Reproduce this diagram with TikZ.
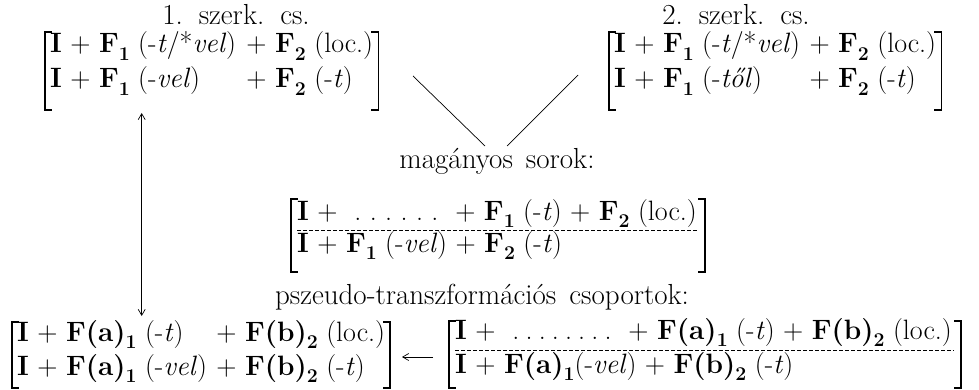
\documentclass[tikz,border=0pt]{standalone}
\usepackage{fontspec}
\usetikzlibrary{arrows.meta,calc}
\newcommand\bI{\textbf{I}}
\newcommand\bF{\textbf{F}}
\newcommand\bFa{\textbf{F(a)}}
\newcommand\bFb{\textbf{F(b)}}
\newcommand\sub[1]{\raisebox{-0.28em}{\fontsize{19.5}{19.5}\selectfont\bfseries #1}}
\newcommand\dd{.\hspace{0.3em}}
\newcommand\ddn{.\hspace{0.22em}}
\newcommand\headfont{\fontsize{29}{34}\selectfont\spaceskip=0.45em plus 0.1em\relax}
\newcommand\brackets[4]{%
  \draw[brk] ($(#1)+(7,0)$) -- (#1) -- (#2) -- ($(#2)+(7,0)$);
  \draw[brk] ($(#3)+(-7,0)$) -- (#3) -- (#4) -- ($(#4)+(-7,0)$);}
\tikzset{
  txt/.style={font=\fontsize{28}{34}\selectfont, inner sep=0pt, anchor=base west},
  head/.style={font=\headfont, inner sep=0pt, anchor=base},
  brk/.style={line width=1.5pt, line join=miter},
  conn/.style={line width=0.7pt},
  arr/.style={conn, -{Straight Barb[length=6pt,width=7pt]}},
  darr/.style={conn, {Straight Barb[length=6pt,width=7pt]}-{Straight Barb[length=6pt,width=7pt]}},
  sep/.style={line width=0.6pt, dash pattern=on 4pt off 2pt}
}
\begin{document}
\begin{tikzpicture}[x=1pt,y=-1pt]
\useasboundingbox (0,0) rectangle (979,390);
% ---------- top left ----------
\node[head] (t1) at (236,25) {1. szerk. cs.};
\node[txt] (A1a) at (50,53) {\bI{} + \bF\sub1 (-\textit{t}/*\textit{vel})};
\node[txt] (A1b) at ($(A1a.base east)+(10,0)$) {+ \bF\sub2 (loc.)};
\node[txt] (A2a) at (50,88) {\bI{} + \bF\sub1 (-\textit{vel})};
\node[txt] (A2b) at (A1b.base west |- A2a.base) {+ \bF\sub2 (-\textit{t})};
\coordinate (Atl) at ($(A1a.base west)+(-5,-21)$);
\coordinate (Abl) at ($(A2a.base west)+(-5,22)$);
\coordinate (Atr) at ($(A1b.base east)+(5,-21)$);
\coordinate (Abr) at (Atr |- Abl);
\brackets{Atl}{Abl}{Atr}{Abr}
% ---------- top right ----------
\node[head] (t2) at (736,25) {2. szerk. cs.};
\node[txt] (B1a) at (614,53) {\bI{} + \bF\sub1 (-\textit{t}/*\textit{vel})};
\node[txt] (B1b) at ($(B1a.base east)+(9,0)$) {+ \bF\sub2 (loc.)};
\node[txt] (B2a) at (614,88) {\bI{} + \bF\sub1 (-\textit{től})};
\node[txt] (B2b) at (B1b.base west |- B2a.base) {+ \bF\sub2 (-\textit{t})};
\coordinate (Btl) at ($(B1a.base west)+(-5,-21)$);
\coordinate (Bbl) at ($(B2a.base west)+(-5,22)$);
\coordinate (Btr) at ($(B1b.base east)+(5,-21)$);
\coordinate (Bbr) at (Btr |- Bbl);
\brackets{Btl}{Bbl}{Btr}{Bbr}
% ---------- middle ----------
\node[head] (m) at (497,168) {magányos sorok:};
\node[txt] (C1) at (297,220) {\bI{} + \ \dd\dd\dd\dd\dd.\ \ + \bF\sub1 (-\textit{t}) + \bF\sub2 (loc.)};
\node[txt] (C2) at (297,252) {\bI{} + \bF\sub1 (-\textit{vel}) + \bF\sub2 (-\textit{t})};
\draw[sep] ($(C1.base west)+(0,10)$) -- ($(C1.base east)+(0,10)$);
\coordinate (Ctl) at ($(C1.base west)+(-6,-21)$);
\coordinate (Cbl) at ($(C2.base west)+(-6,20)$);
\coordinate (Ctr) at ($(C1.base east)+(8,-21)$);
\coordinate (Cbr) at (Ctr |- Cbl);
\brackets{Ctl}{Cbl}{Ctr}{Cbr}
% lines to middle
\coordinate (L1a) at (413,76);
\coordinate (L1b) at (485,146);
\coordinate (L2a) at (578,75);
\coordinate (L2b) at (507,146);
\draw[conn] (L1a) -- (L1b);
\draw[conn] (L2a) -- (L2b);
% ---------- bottom ----------
\node[head] (p) at (482,304) {pszeudo-transzformációs csoportok:};
\node[txt] (D1a) at (17,341) {\bI{} + \bFa\sub1 (-\textit{t})};
\node[txt] (D2a) at (17,375) {\bI{} + \bFa\sub1 (-\textit{vel})};
\node[txt] (D2b) at ($(D2a.base east)+(9,0)$) {+ \bFb\sub2 (-\textit{t})};
\node[txt] (D1b) at (D2b.base west |- D1a.base) {+ \bFb\sub2 (loc.)};
\coordinate (Dtl) at ($(D1a.base west)+(-5,-19)$);
\coordinate (Dbl) at ($(D2a.base west)+(-5,13)$);
\coordinate (Dtr) at ($(D1b.base east)+(5,-19)$);
\coordinate (Dbr) at (Dtr |- Dbl);
\brackets{Dtl}{Dbl}{Dtr}{Dbr}
\node[txt] (E1) at (455,339) {\bI{} + \ \ddn\ddn\ddn\ddn\ddn\ddn\ddn.\ \ + \bFa\sub1 (-\textit{t}) + \bFb\sub2 (loc.)};
\node[txt] (E2) at (455,373) {\bI{} + \bFa\sub1(-\textit{vel}) + \bFb\sub2 (-\textit{t})};
\draw[sep] ($(E1.base west)+(0,11)$) -- ($(E1.base east)+(2,11)$);
\coordinate (Etl) at ($(E1.base west)+(-6,-18)$);
\coordinate (Ebl) at ($(E2.base west)+(-6,15)$);
\coordinate (Etr) at ($(E1.base east)+(9,-18)$);
\coordinate (Ebr) at (Etr |- Ebl);
\brackets{Etl}{Ebl}{Etr}{Ebr}
% arrows
\coordinate (V1) at (141.7,113);
\coordinate (V2) at (141.7,316);
\draw[darr] (V1) -- (V2);
\coordinate (H1) at (433,357);
\coordinate (H2) at (402,357);
\draw[arr] (H1) -- (H2);
\end{tikzpicture}
\end{document}
